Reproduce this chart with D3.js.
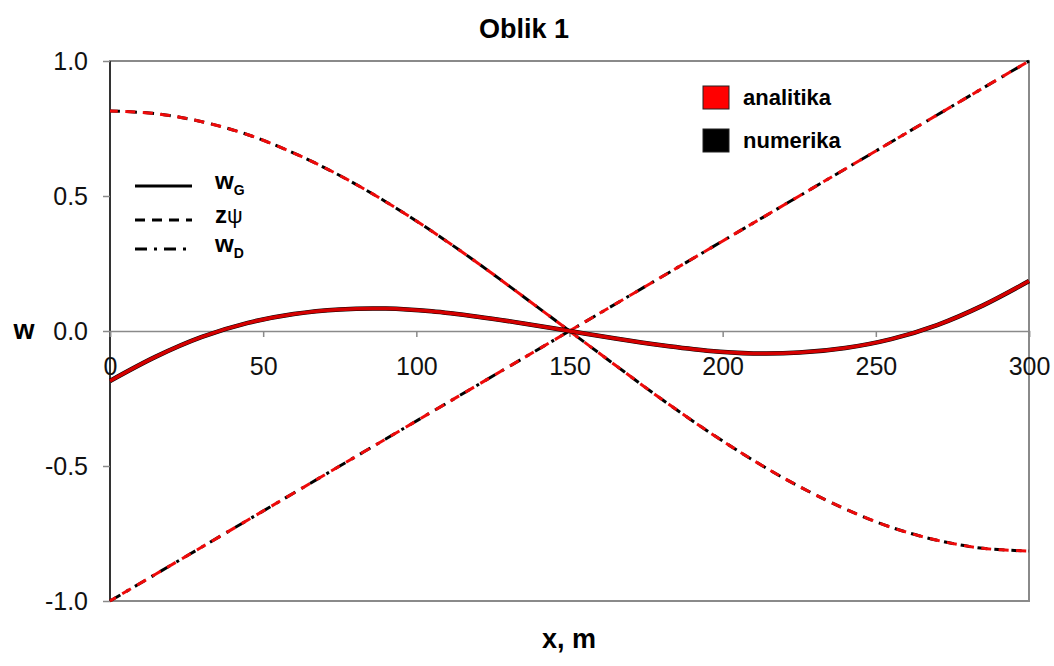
<!DOCTYPE html>
<html><head><meta charset="utf-8">
<script src="https://cdn.jsdelivr.net/npm/d3@7"></script>
<style>body{margin:0;background:#fff}svg{font-family:"Liberation Sans",Arial,sans-serif}</style>
</head><body><svg id="c" width="1054" height="666"></svg>
<script>
const xs = [0,15,30,45,60,75,90,105,120,135,150,165,180,195,210,225,240,255,270,285,300];
const wG = [-0.185,-0.095,-0.022,0.030,0.063,0.080,0.083,0.073,0.053,0.028,0,-0.028,-0.053,-0.073,-0.083,-0.080,-0.063,-0.030,0.022,0.095,0.185];
const zPsi = [0.815,0.805,0.775,0.727,0.659,0.576,0.479,0.370,0.252,0.127,0,-0.127,-0.252,-0.370,-0.479,-0.576,-0.659,-0.727,-0.775,-0.805,-0.815];
const wD = [-1.0,-0.9,-0.8,-0.7,-0.6,-0.5,-0.4,-0.3,-0.2,-0.1,0,0.1,0.2,0.3,0.4,0.5,0.6,0.7,0.8,0.9,1.0];
const xTicks = [0,50,100,150,200,250,300];
const yTicks = [-1.0,-0.5,0.0,0.5,1.0];
const legendSeries = ["analitika","numerika"];
const legendStyles = [{main:"w",sub:"G"},{main:"z",psi:"ψ",sub:""},{main:"w",sub:"D"}];

const svg = d3.select("#c");
const L=110,R=1029,T=61,B=601;
const x = d3.scaleLinear().domain([0,300]).range([L,R]);
const y = d3.scaleLinear().domain([-1,1]).range([B,T]);
const FONT="Liberation Sans, Arial, sans-serif";

// frame
svg.append("rect").attr("x",L).attr("y",T).attr("width",R-L).attr("height",B-T)
  .attr("fill","none").attr("stroke","#8a8a8a").attr("stroke-width",2);
svg.append("line").attr("x1",L).attr("x2",L).attr("y1",T).attr("y2",B).attr("stroke","#333").attr("stroke-width",2);

// y axis
const yfmt = d => d3.format(".1f")(d).replace("−","-");
const ya = svg.append("g").attr("transform",`translate(${L},0)`)
  .call(d3.axisLeft(y).tickValues(yTicks).tickFormat(yfmt).tickSize(7).tickPadding(15));
ya.select(".domain").remove();
ya.selectAll("line").attr("stroke","#8a8a8a").attr("stroke-width",1.5);
ya.selectAll("text").attr("font-size",25).attr("fill","#111").attr("font-family",FONT);

// x axis at zero
const xa = svg.append("g").attr("transform",`translate(0,${y(0)})`)
  .call(d3.axisBottom(x).tickValues(xTicks).tickFormat(d3.format("d")).tickSize(6).tickPadding(20));
xa.select(".domain").attr("stroke","#8a8a8a").attr("stroke-width",1.5);
xa.selectAll("line").attr("stroke","#8a8a8a").attr("stroke-width",1.5);
xa.selectAll("text").attr("font-size",25).attr("fill","#111").attr("font-family",FONT);

const line = d3.line().x((d,i)=>x(xs[i])).y(d=>y(d)).curve(d3.curveCatmullRom);

function drawPair(vals, dashBlack, dashRed, offRed){
  svg.append("path").datum(vals).attr("d",line).attr("fill","none")
    .attr("stroke","#000").attr("stroke-width",3).attr("stroke-dasharray",dashBlack);
  svg.append("path").datum(vals).attr("d",line).attr("fill","none")
    .attr("stroke","#ee0a0a").attr("stroke-width",3).attr("stroke-dasharray",dashRed).attr("stroke-dashoffset",offRed);
}
drawPair(zPsi,"10,7","10,7.4",2);
drawPair(wD,"12,7,3,7","10,7.3",3);
// wG solid
svg.append("path").datum(wG).attr("d",line).attr("fill","none").attr("stroke","#000").attr("stroke-width",4.5);
svg.append("path").datum(wG).attr("d",line).attr("fill","none").attr("stroke","#d40000").attr("stroke-width",3.5);

// titles
svg.append("text").attr("x",524).attr("y",38).attr("text-anchor","middle").attr("font-size",27).attr("font-weight","bold").text("Oblik 1");
svg.append("text").attr("x",24).attr("y",339).attr("text-anchor","middle").attr("font-size",27).attr("font-weight","bold").text("w");
svg.append("text").attr("x",569).attr("y",648).attr("text-anchor","middle").attr("font-size",27).attr("font-weight","bold").text("x, m");

// style legend
const dashes=[null,"10,7","12,7,3,7"];
legendStyles.forEach((s,i)=>{
  const yy=[186,220,249][i];
  svg.append("line").attr("x1",135).attr("x2",192).attr("y1",yy).attr("y2",yy)
    .attr("stroke","#000").attr("stroke-width",3).attr("stroke-dasharray",dashes[i]);
  const t=svg.append("text").attr("x",215).attr("y",yy+3).attr("font-size",24).attr("font-weight","bold");
  t.append("tspan").text(s.main);
  if(s.psi) t.append("tspan").attr("font-weight","normal").attr("font-size",22).text(s.psi);
  if(s.sub) t.append("tspan").attr("font-size",14).attr("dy",6).text(s.sub);
});

// color legend
const cols=["#ff0000","#000"];
legendSeries.forEach((n,i)=>{
  const yy=[86,129][i];
  svg.append("rect").attr("x",703).attr("y",yy).attr("width",26).attr("height",23)
    .attr("fill",cols[i]).attr("stroke","#222").attr("stroke-width",1);
  svg.append("text").attr("x",743).attr("y",yy+19).attr("font-size",22).attr("font-weight","bold").text(n);
});
</script></body></html>
